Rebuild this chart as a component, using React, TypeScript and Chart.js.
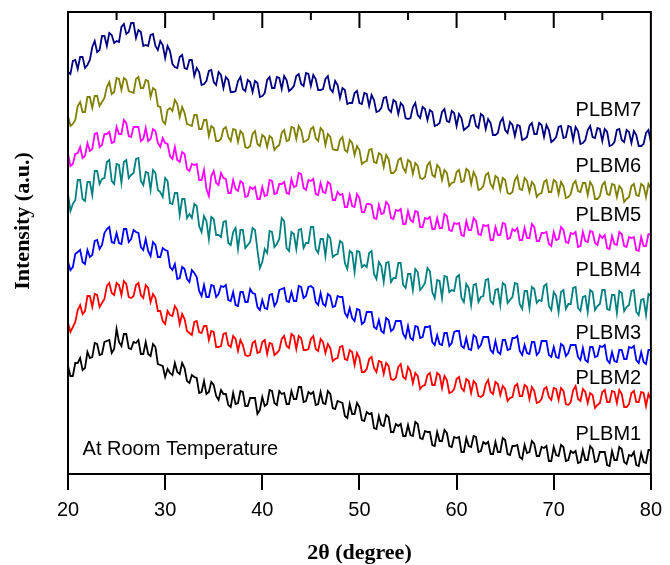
import { useEffect, useRef } from 'react';
import { Chart, registerables } from 'chart.js';

Chart.register(...registerables);

// 2θ (degree) sampling positions
const twoTheta = [
  20,20.25,20.5,20.75,21,21.25,21.5,21.75,22,22.25,22.5,22.75,23,23.25,23.5,23.75,24,24.25,24.5,24.75,
  25,25.25,25.5,25.75,26,26.25,26.5,26.75,27,27.25,27.5,27.75,28,28.25,28.5,28.75,29,29.25,29.5,29.75,
  30,30.25,30.5,30.75,31,31.25,31.5,31.75,32,32.25,32.5,32.75,33,33.25,33.5,33.75,34,34.25,34.5,34.75,
  35,35.25,35.5,35.75,36,36.25,36.5,36.75,37,37.25,37.5,37.75,38,38.25,38.5,38.75,39,39.25,39.5,39.75,
  40,40.25,40.5,40.75,41,41.25,41.5,41.75,42,42.25,42.5,42.75,43,43.25,43.5,43.75,44,44.25,44.5,44.75,
  45,45.25,45.5,45.75,46,46.25,46.5,46.75,47,47.25,47.5,47.75,48,48.25,48.5,48.75,49,49.25,49.5,49.75,
  50,50.25,50.5,50.75,51,51.25,51.5,51.75,52,52.25,52.5,52.75,53,53.25,53.5,53.75,54,54.25,54.5,54.75,
  55,55.25,55.5,55.75,56,56.25,56.5,56.75,57,57.25,57.5,57.75,58,58.25,58.5,58.75,59,59.25,59.5,59.75,
  60,60.25,60.5,60.75,61,61.25,61.5,61.75,62,62.25,62.5,62.75,63,63.25,63.5,63.75,64,64.25,64.5,64.75,
  65,65.25,65.5,65.75,66,66.25,66.5,66.75,67,67.25,67.5,67.75,68,68.25,68.5,68.75,69,69.25,69.5,69.75,
  70,70.25,70.5,70.75,71,71.25,71.5,71.75,72,72.25,72.5,72.75,73,73.25,73.5,73.75,74,74.25,74.5,74.75,
  75,75.25,75.5,75.75,76,76.25,76.5,76.75,77,77.25,77.5,77.75,78,78.25,78.5,78.75,79,79.25,79.5,79.75,
  80,
];

// Intensity (a.u., curves offset as in the figure)
const plbm7 = [
  402,400,413,414,405,417,417,406,409,414,427,433,422,424,438,438,428,441,439,431,
  433,432,447,450,440,442,451,451,436,444,442,428,429,428,439,440,428,424,433,429,
  416,428,423,410,407,406,417,419,406,405,414,414,398,406,402,389,390,393,403,404,
  392,389,402,399,386,397,394,382,382,383,393,397,385,383,394,392,382,393,391,377,
  378,381,394,397,386,386,397,396,385,398,394,383,385,388,398,400,390,388,401,400,
  388,399,395,384,384,385,395,398,385,382,393,389,376,386,384,370,371,371,381,383,
  371,370,381,380,368,379,374,362,363,366,376,377,365,362,374,372,360,371,368,356,
  355,356,367,371,359,356,367,365,354,364,362,348,349,351,362,365,353,352,363,361,
  348,360,356,344,346,348,358,359,348,346,360,358,345,355,351,339,339,341,352,356,
  344,341,352,349,338,349,348,334,335,337,348,351,340,340,351,349,337,349,344,332,
  334,337,347,348,336,337,348,347,334,347,343,330,331,334,344,348,337,336,346,345,
  333,345,342,328,329,332,344,345,334,332,344,342,331,343,339,328,328,330,341,344,
  332,
];
const plbm6 = [
  358,348,350,354,368,372,362,362,377,377,366,378,378,368,372,376,387,392,380,382,
  396,395,384,396,394,383,382,381,395,397,386,386,394,393,377,386,384,368,367,353,
  350,364,366,363,374,370,357,367,361,350,349,348,359,359,345,345,354,354,338,348,
  346,333,333,335,345,347,337,333,345,344,332,343,340,327,326,328,340,343,330,328,
  339,337,327,338,336,324,327,329,341,344,333,334,347,346,335,348,344,332,333,335,
  345,347,336,333,346,343,329,340,337,325,324,324,334,337,324,322,334,331,319,328,
  324,310,312,313,324,325,312,311,321,319,307,319,315,301,301,304,314,316,306,302,
  314,312,300,311,308,296,295,297,309,312,299,297,309,306,294,304,301,288,291,292,
  302,304,292,293,305,303,290,302,297,284,285,288,299,301,290,286,298,296,284,296,
  294,281,280,282,294,298,285,284,296,293,282,292,289,277,280,281,292,294,282,282,
  294,292,280,292,288,276,277,280,290,293,283,282,291,291,279,292,288,275,275,278,
  289,292,280,279,290,289,277,288,285,272,275,277,288,290,279,278,290,288,277,290,
  286,
];
const plbm5 = [
  320,308,310,320,321,327,316,318,331,323,325,340,341,327,329,340,340,342,331,332,
  347,340,340,354,351,338,337,347,347,347,333,335,346,333,335,345,343,331,327,336,
  331,330,318,315,327,314,312,322,320,305,303,310,309,310,294,294,304,285,278,298,
  303,291,289,301,296,295,281,281,294,285,283,293,291,277,278,287,285,287,275,275,
  287,278,279,294,293,280,281,290,290,292,281,280,295,287,288,301,300,286,284,294,
  293,295,280,279,291,282,281,292,290,274,274,282,279,280,267,267,279,268,267,280,
  276,262,262,270,270,269,256,255,269,260,261,272,269,256,255,264,263,265,250,250,
  263,254,252,263,262,247,247,256,255,257,245,245,256,246,246,260,258,244,243,251,
  250,251,239,238,253,244,244,256,253,240,239,249,248,249,234,234,247,239,239,251,
  250,235,236,245,243,246,234,234,246,236,236,250,247,233,233,241,241,242,230,228,
  242,234,235,247,244,232,231,241,240,242,227,228,242,233,232,243,242,231,229,239,
  236,239,226,225,238,230,229,242,240,228,227,237,236,237,224,223,237,228,228,240,
  239,
];
const plbm4 = [
  280,263,270,274,294,294,275,273,292,292,279,303,303,290,295,296,312,314,293,290,
  310,309,291,312,314,296,299,301,315,316,293,289,302,301,284,304,301,284,282,277,
  296,293,271,270,281,281,259,275,275,256,260,256,270,268,248,242,258,253,235,257,
  255,239,239,237,252,253,231,229,242,246,225,244,244,226,229,232,246,244,224,206,
  212,225,221,243,242,227,230,235,256,253,226,223,242,240,225,244,245,226,231,231,
  247,247,225,221,235,235,218,239,236,217,219,220,233,231,211,205,223,221,202,223,
  222,207,209,207,221,223,200,195,212,208,192,211,212,192,196,196,211,211,189,186,
  200,200,184,205,202,184,187,191,206,203,182,176,194,193,176,198,197,182,184,183,
  197,199,176,172,190,186,169,189,190,172,177,178,194,195,173,170,184,185,169,191,
  189,171,174,177,191,190,170,165,183,183,166,187,185,171,174,173,188,190,168,164,
  182,178,162,182,184,165,170,170,186,187,166,163,177,178,162,184,182,164,168,170,
  184,184,165,164,179,179,161,183,181,163,167,169,183,184,162,159,174,175,159,180,
  178,
];
const plbm3 = [
  212,204,207,220,222,224,212,210,224,217,219,233,234,225,229,241,245,247,232,231,
  241,231,230,245,245,232,235,244,242,241,227,224,235,223,218,232,229,217,217,226,
  224,223,207,204,210,195,196,207,205,195,192,204,201,197,183,178,189,177,177,189,
  188,177,180,188,187,189,174,173,182,169,168,182,182,172,172,185,181,180,167,164,
  174,166,165,179,180,168,172,184,185,186,173,172,182,173,173,188,187,176,178,187,
  188,186,172,169,181,170,168,180,178,167,168,178,177,177,161,157,166,156,153,165,
  164,150,152,162,162,162,147,145,154,143,141,156,154,143,145,153,153,153,140,136,
  148,136,134,148,147,136,137,147,147,148,132,129,139,130,129,141,141,128,131,142,
  143,143,128,126,136,125,124,139,137,126,129,137,137,137,124,121,133,122,120,134,
  134,124,125,136,136,138,123,119,129,121,120,132,132,119,122,133,133,133,119,117,
  127,117,116,130,128,118,121,129,129,129,117,114,126,114,112,127,127,117,118,128,
  127,129,114,111,122,113,112,124,124,115,115,127,126,128,114,111,122,112,110,124,
  124,
];
const plbm2 = [
  151,142,147,152,164,169,160,163,178,178,167,180,179,167,171,175,188,191,181,179,
  191,189,179,193,190,177,176,178,189,191,179,176,189,186,172,180,176,163,163,153,
  150,163,159,158,168,164,150,160,155,143,141,139,152,153,142,141,148,148,134,143,
  142,127,127,128,140,141,129,127,138,135,123,134,129,119,118,119,131,133,121,122,
  132,134,120,131,130,119,121,124,135,138,128,126,140,138,125,138,136,124,124,125,
  135,138,125,123,135,132,121,130,126,113,115,116,127,128,115,114,124,122,109,121,
  116,102,102,105,115,117,106,102,113,112,100,111,108,95,94,96,107,110,97,95,
  107,103,91,101,98,85,88,89,99,101,89,89,101,99,86,98,94,81,82,85,
  95,97,86,83,95,93,81,93,90,78,77,79,90,94,82,80,92,90,79,88,
  85,73,76,77,88,90,78,78,89,87,75,87,83,71,72,75,85,87,77,74,
  86,85,74,86,83,70,69,72,84,88,75,73,85,82,71,81,79,66,69,71,
  82,84,72,72,83,82,71,84,80,67,67,70,81,83,72,72,82,81,68,80,
  75,
];
const plbm1 = [
  108,98,98,111,111,116,104,106,122,116,117,131,130,119,120,132,133,134,121,125,
  145,132,128,140,140,126,125,132,131,134,120,120,132,120,118,130,127,110,109,108,
  97,105,101,99,111,102,100,111,106,93,91,99,97,96,81,82,93,80,82,92,
  89,78,74,84,80,80,69,67,81,70,71,83,82,68,68,76,76,76,60,64,
  77,68,70,84,83,71,69,83,80,81,70,70,83,75,75,87,87,72,73,82,
  80,82,69,70,82,71,70,83,80,66,65,73,72,71,58,56,70,60,60,71,
  67,54,53,62,60,61,46,45,58,49,48,59,57,42,42,50,48,50,38,38,
  49,39,38,52,50,36,35,43,42,42,29,28,42,33,33,44,41,28,27,37,
  36,37,22,22,36,28,27,38,37,22,23,32,30,32,20,20,32,22,22,36,
  34,20,19,28,28,29,17,15,29,21,22,33,30,18,18,27,26,28,13,13,
  27,19,18,29,27,13,14,23,21,23,11,12,24,14,14,28,25,12,13,22,
  22,22,9,8,23,14,14,27,25,12,10,19,18,22,9,8,21,12,11,24,
  24,
];

const seriesNames = ['PLBM1', 'PLBM2', 'PLBM3', 'PLBM4', 'PLBM5', 'PLBM6', 'PLBM7'];
const seriesValues = [plbm1, plbm2, plbm3, plbm4, plbm5, plbm6, plbm7];
const seriesColors = ['#000000', '#ff0000', '#0000ff', '#008080', '#ff00ff', '#808000', '#000080'];

// Name label anchors (data units): right-aligned at 2θ = 79
const labelX = 79;
const labelY = [40, 96, 141, 204, 259, 308, 364];
const noteText = 'At Room Temperature';
const noteX = 21.5;
const noteY = 25;

const topMajorTicks = [30, 40, 50, 60, 70];
const topMinorTicks = [25, 35, 45, 55, 65, 75];

const decorPlugin = {
  id: 'decor',
  afterDraw(chart: any) {
    const { ctx, chartArea: a, scales } = chart;
    const x = scales.x;
    const y = scales.y;
    ctx.save();
    ctx.strokeStyle = '#000';
    ctx.lineWidth = 2;
    ctx.beginPath();
    ctx.moveTo(a.left, a.bottom);
    ctx.lineTo(a.left, a.top);
    ctx.lineTo(a.right, a.top);
    ctx.lineTo(a.right, a.bottom);
    ctx.stroke();
    ctx.beginPath();
    for (const v of topMajorTicks) {
      const px = x.getPixelForValue(v);
      ctx.moveTo(px, a.top);
      ctx.lineTo(px, a.top + 16);
    }
    for (const v of topMinorTicks) {
      const px = x.getPixelForValue(v);
      ctx.moveTo(px, a.top);
      ctx.lineTo(px, a.top + 8);
    }
    ctx.stroke();

    ctx.fillStyle = '#000';
    ctx.font = '20px "Liberation Sans"';
    ctx.textAlign = 'right';
    ctx.textBaseline = 'middle';
    seriesNames.forEach((n, i) => {
      ctx.fillText(n, x.getPixelForValue(labelX), y.getPixelForValue(labelY[i]));
    });
    ctx.textAlign = 'left';
    ctx.fillText(noteText, x.getPixelForValue(noteX), y.getPixelForValue(noteY));

    ctx.save();
    ctx.translate(23, (a.top + a.bottom) / 2 - 22);
    ctx.rotate(-Math.PI / 2);
    ctx.font = 'bold 22px "Liberation Serif"';
    ctx.textAlign = 'center';
    ctx.textBaseline = 'middle';
    ctx.fillText('Intensity (a.u.)', 0, 0);
    ctx.restore();
    ctx.restore();
  },
};

export default function App() {
  const ref = useRef<HTMLCanvasElement>(null);
  useEffect(() => {
    if (!ref.current) return;
    const chart = new Chart(ref.current, {
      type: 'line',
      data: {
        datasets: seriesValues.map((vals, k) => ({
          label: seriesNames[k],
          data: vals.map((v, i) => ({ x: twoTheta[i], y: v })),
          borderColor: seriesColors[k],
          borderWidth: 1.8,
          borderJoinStyle: 'miter',
          pointRadius: 0,
          tension: 0,
          fill: false,
        })),
      },
      options: {
        responsive: false,
        animation: false,
        events: [],
        layout: { padding: { left: 68, right: 12, top: 12, bottom: 0 } },
        plugins: { legend: { display: false }, tooltip: { enabled: false } },
        scales: {
          x: {
            type: 'linear',
            min: 20,
            max: 80,
            afterFit: (s: any) => { s.height = 91; },
            ticks: {
              stepSize: 10,
              color: '#000',
              font: { family: 'Liberation Sans', size: 20 },
              padding: 8,
              maxRotation: 0,
              autoSkip: false,
            },
            grid: { drawOnChartArea: false, drawTicks: true, tickLength: 16, color: '#000', lineWidth: 2 },
            border: { display: true, color: '#000', width: 2 },
            title: {
              display: true,
              text: '2θ (degree)',
              color: '#000',
              font: { family: 'Liberation Serif', size: 22, weight: 'bold', lineHeight: 1 },
              padding: { top: 0, bottom: 1 },
            },
          },
          y: { display: false, min: 0, max: 462 },
        },
      },
      plugins: [decorPlugin],
    } as any);
    return () => chart.destroy();
  }, []);
  return (
    <div style={{ position: 'absolute', left: 0, top: 0, width: 670, height: 565, background: '#fff' }}>
      <canvas ref={ref} width={670} height={565} />
    </div>
  );
}
